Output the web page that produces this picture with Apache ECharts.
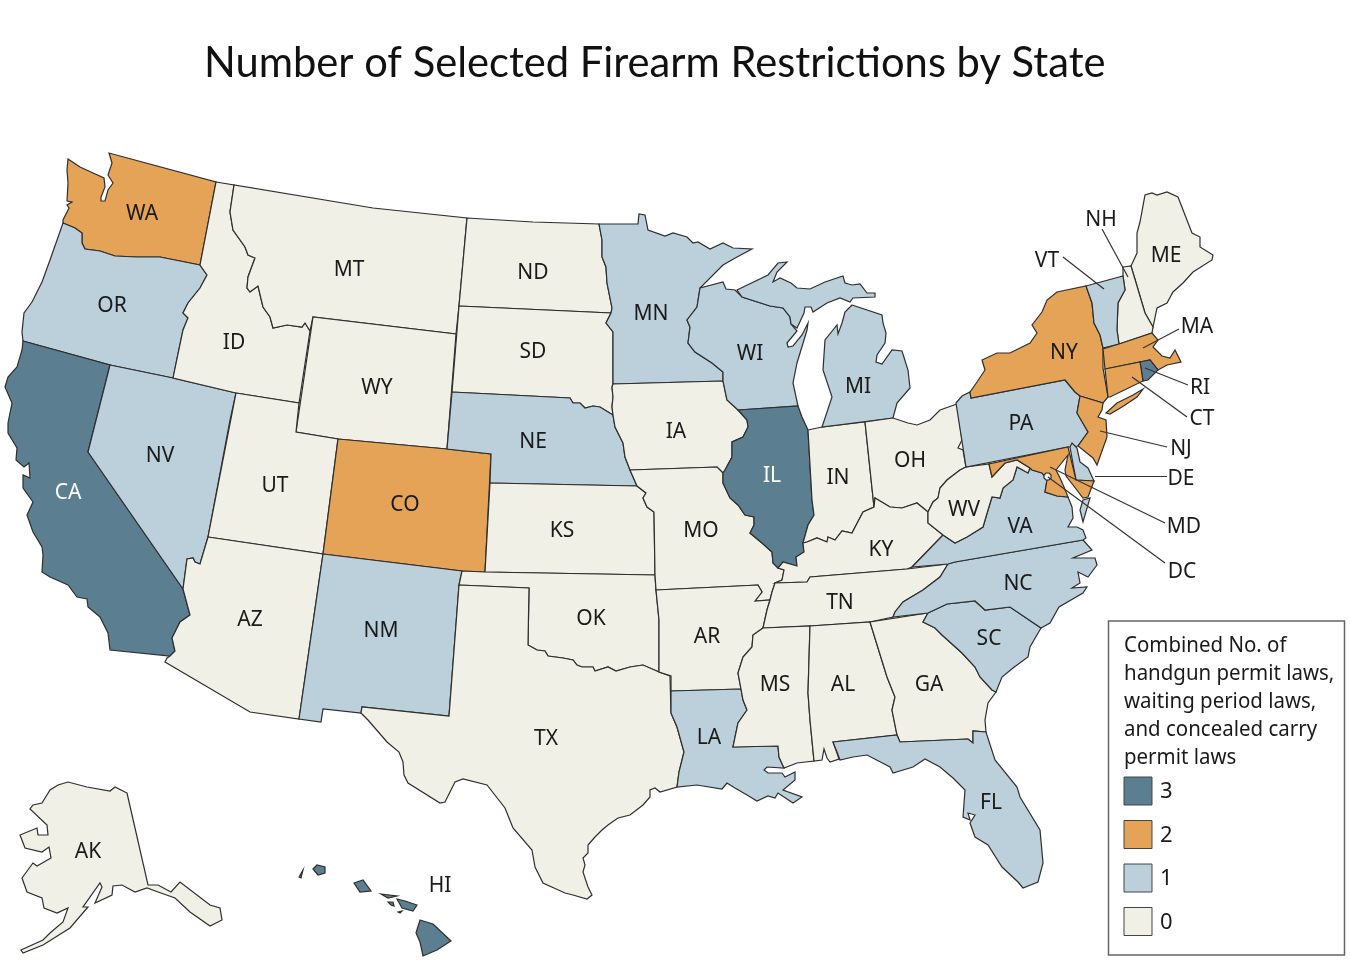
<!DOCTYPE html>
<html lang="en">
<head>
<meta charset="UTF-8">
<title>Number of Selected Firearm Restrictions by State</title>
<script src="https://cdn.jsdelivr.net/npm/echarts@6/dist/echarts.min.js"></script>
<style>
html, body { margin: 0; padding: 0; background: #fff; }
#chart { width: 1350px; height: 962px; }
</style>
</head>
<body>
<div id="chart"></div>
<script>
// values
var states = ['WA','OR','CA','NV','ID','MT','WY','UT','AZ','CO','NM','ND','SD','NE','KS','OK','TX','MN','IA','MO','AR','LA','WI','IL','IN','MI','OH','KY','TN','MS','AL','GA','FL','SC','NC','VA','WV','PA','NY','ME','NH','VT','MA','RI','CT','NJ','DE','MD','DC','AK','HI'];
var counts = [2,1,3,1,0,0,0,0,0,2,1,0,0,1,0,0,0,1,0,0,0,1,1,3,0,1,0,0,0,0,0,0,1,1,1,1,0,1,2,0,0,1,2,3,2,2,1,2,0,0,3];
var legendLevels = [3, 2, 1, 0];
var levelColors = ['#5B7F91', '#E5A358', '#BBD0DB', '#F0F0E6'];
var legendTitle = ['Combined No. of', 'handgun permit laws,', 'waiting period laws,', 'and concealed carry', 'permit laws'];
var titleText = 'Number of Selected Firearm Restrictions by State';

// base map, traced by hand in picture pixels. shared borders first
var waOr = [[63,223],[75,228],[82,233],[82,243],[85,249],[100,251],[115,256],[137,257],[160,257],[200,265]];
var orId = [[200,265],[207,275],[200,288],[188,303],[183,313],[188,318],[183,330],[173,378]];
var idMt = [[234,185],[230,212],[233,230],[245,247],[248,255],[255,258],[248,277],[247,288],[250,292],[258,286],[263,307],[270,317],[273,328],[287,325],[302,327],[305,323],[310,331]];
var caAz = [[183,589],[190,615],[180,622],[172,638],[175,651],[170,656]];
var nvAz = [[208,537],[200,564],[195,562],[193,558],[187,559],[183,589]];
var redRiver = [[659,672],[643,665],[630,667],[616,671],[608,667],[595,671],[593,667],[582,667],[577,665],[573,660],[563,658],[548,656],[545,651],[537,650],[528,645]];
var txLa = [[671,713],[677,727],[684,752],[679,772],[677,787]];
var sdNe = [[452,392],[570,398],[573,403],[580,403],[585,408],[593,406],[600,407],[613,415]];
var neIa = [[613,415],[615,427],[623,443],[625,457],[630,470]];
var ndMn = [[599,224],[602,240],[602,257],[606,267],[607,283],[612,308],[611,313]];
var sdMn = [[611,313],[606,323],[613,332],[613,384]];
var sdIa = [[613,384],[612,387],[613,397],[612,407],[613,415]];
var mnWi = [[700,288],[697,307],[687,320],[690,327],[688,343],[695,352],[712,363],[723,372],[723,381]];
var wiIa = [[723,381],[727,400],[738,410]];
var ilIa = [[738,410],[747,420],[748,427],[743,437],[732,442],[732,457],[725,470],[723,473]];
var ilMo = [[723,473],[723,483],[730,498],[738,505],[745,515],[754,517],[754,525],[750,533],[762,543],[772,552],[773,563],[778,568]];
var ilKy = [[803,543],[804,552],[796,557],[797,566],[783,562],[778,568]];
var ilIn = [[808,430],[812,500],[814,515],[808,525],[803,543]];
var moKy = [[778,568],[784,570],[782,580],[775,583]];
var moTn = [[775,583],[772,592],[770,600]];
var arTn = [[770,600],[767,610],[763,628]];
var arMs = [[763,628],[753,635],[752,647],[743,657],[738,673],[741,689]];
var laMs = [[741,689],[743,700],[747,710],[738,723],[733,747],[778,746],[779,757],[784,768]];
var msAl = [[810,626],[808,693],[810,720],[814,761]];
var alGa = [[870,622],[887,677],[895,697],[892,710],[897,735]];
var gaSc = [[928,613],[923,622],[935,628],[942,635],[962,653],[975,667],[980,677],[992,690],[996,692]];
var scNc = [[928,613],[947,604],[975,601],[985,610],[1010,607],[1041,628]];
var tnNc = [[948,564],[940,577],[923,590],[903,602],[895,612],[893,617]];
var ohKy = [[928,512],[917,503],[902,508],[890,507],[875,498],[874,507]];
var inKy = [[874,507],[863,512],[852,533],[842,531],[835,540],[828,537],[827,542],[817,538],[807,542],[803,543]];
var kyWv = [[928,512],[928,523],[943,535]];
var ohWv = [[966,467],[960,470],[947,480],[940,488],[938,498],[933,502],[928,512]];
var wvVa = [[943,535],[955,543],[967,537],[983,527],[988,510],[992,497],[1000,498],[1003,488],[1013,480],[1017,467],[1028,473],[1030,468]];
var mdWv = [[989,464],[992,477],[1005,463],[1017,460],[1030,468]];
var mdVa = [[1030,468],[1032,470],[1042,473],[1047,480],[1045,492],[1057,496],[1068,497]];
var nyPa = [[971,398],[1065,380],[1075,392],[1080,396]];
var paNj = [[1080,396],[1077,413],[1088,432],[1078,446],[1070,447]];
var nyVt = [[1086,286],[1092,303],[1094,323],[1100,335],[1103,348]];
var vtNh = [[1123,276],[1125,290],[1118,303],[1117,330],[1119,344]];

function rev(a) { return a.slice().reverse(); }

var outlines = {
  WA: [[[68,159],[80,167],[93,173],[104,178],[105,187],[101,197],[101,201],[105,201],[108,190],[113,183],[108,175],[112,163],[109,153],[216,182]].concat(rev(waOr)).concat([[63,220],[66,214],[69,208],[67,205],[72,202],[67,201],[68,183],[67,170]])],
  OR: [waOr.concat(orId).concat([[110,365],[23,341],[22,332],[24,313],[32,302],[42,282],[50,260]])],
  CA: [[[23,341],[110,365],[88,452]].concat(caAz).concat([[110,650],[108,633],[100,617],[88,607],[87,599],[77,597],[68,585],[50,577],[42,572],[43,555],[42,547],[33,532],[27,515],[33,502],[23,488],[23,475],[30,478],[29,463],[24,467],[16,460],[17,448],[8,433],[8,423],[12,403],[5,387],[8,377],[17,367],[22,350]])],
  NV: [[[110,365],[173,378],[236,393],[230,420]].concat(nvAz).concat([[88,452]])],
  ID: [[[216,182]].concat(idMt).concat([[299,403],[236,393],[173,378]]).concat(rev(orId))],
  MT: [idMt.concat([[313,317],[456,334],[459,306],[467,218],[373,208]])],
  WY: [[[313,317],[456,334],[447,449],[338,439],[296,432]]],
  UT: [[[236,393],[299,403],[296,432],[338,439],[323,554],[208,537]]],
  AZ: [[[208,537],[323,554],[299,719],[250,712],[165,662],[167,658]].concat(rev(caAz)).concat(rev(nvAz))],
  CO: [[[338,439],[447,449],[491,454],[485,572],[462,571],[323,554]]],
  NM: [[[323,554],[462,571],[459,585],[449,716],[362,707],[361,713],[323,709],[321,722],[299,719]]],
  ND: [[[467,218],[533,222],[599,224]].concat(ndMn.slice(1)).concat([[459,306]])],
  SD: [[[459,306]].concat(ndMn.slice(-1)).concat(sdMn.slice(1)).concat(sdIa.slice(1)).concat(rev(sdNe))],
  NE: [sdNe.concat(neIa.slice(1)).concat([[637,486],[490,483],[491,454],[447,449]])],
  KS: [[[490,483],[637,486],[646,493],[643,498],[647,507],[654,512],[655,575],[485,572]]],
  OK: [[[462,571],[485,572],[655,575],[656,590],[659,620]].concat(redRiver).concat([[529,588],[459,585]])],
  TX: [[[459,585],[529,588]].concat(rev(redRiver)).concat([[670,676]]).concat(txLa).concat([[660,792],[655,788],[650,790],[650,797],[643,805],[630,815],[618,818],[608,825],[602,830],[595,837],[588,845],[588,853],[583,858],[585,865],[583,872],[588,887],[592,895],[587,899],[573,895],[565,893],[543,883],[535,867],[532,850],[513,828],[505,808],[487,785],[463,779],[455,782],[445,802],[440,803],[408,783],[404,775],[403,762],[399,752],[387,742],[368,720],[361,713],[362,707],[449,716]])],
  MN: [ndMn.concat(sdMn.slice(1)).concat([[723,381]]).concat(rev(mnWi)).concat([[723,265],[737,257],[752,249],[733,248],[723,243],[710,249],[698,242],[693,243],[687,237],[673,233],[665,236],[648,230],[645,215],[639,214],[638,224]])],
  IA: [sdIa.concat(neIa.slice(1)).concat([[717,467]]).concat(rev(ilIa)).concat(rev(wiIa))],
  MO: [[[630,470],[717,467]].concat(ilMo).concat(moKy.slice(1)).concat(moTn.slice(1)).concat([[755,601],[762,592],[758,585],[656,590],[655,575],[654,512],[647,507],[643,498],[646,493],[637,486]])],
  AR: [[[656,590],[758,585],[762,592],[755,601]].concat(arTn).concat(arMs.slice(1)).concat([[671,691],[671,676],[659,672],[659,620]])],
  LA: [[[671,691]].concat(laMs).concat([[767,767],[764,770],[768,773],[782,773],[785,777],[795,772],[795,780],[783,790],[802,797],[793,803],[778,793],[775,798],[768,796],[757,801],[747,795],[735,788],[727,783],[722,789],[697,785]]).concat(rev(txLa))],
  WI: [mnWi.concat(wiIa.slice(1)).concat([[798,406],[793,383],[797,363],[804,340],[807,330],[808,323],[802,335],[793,346],[788,347],[787,343],[797,331],[791,324],[790,317],[783,308],[770,306],[742,297],[735,290],[726,289],[723,282]])],
  IL: [[[738,410],[798,406],[802,417]].concat(ilIn).concat(ilKy.slice(1)).concat(rev(ilMo).slice(1)).concat(rev(ilIa).slice(1))],
  IN: [[[808,430],[822,427],[865,422]].concat([[874,507]]).concat(inKy.slice(1)).concat(rev(ilIn).slice(1))],
  MI: [
    [[737,290],[768,275],[778,263],[787,262],[777,272],[773,282],[780,278],[791,283],[797,288],[810,289],[825,282],[843,276],[845,283],[852,285],[860,284],[867,293],[875,293],[875,297],[853,298],[850,302],[840,298],[827,303],[813,312],[811,307],[805,307],[804,313],[797,328],[791,324],[790,317],[783,308],[770,306],[742,297]],
    [[852,305],[882,315],[883,323],[886,333],[885,343],[877,355],[876,362],[882,364],[892,350],[902,351],[908,370],[910,388],[897,403],[893,418],[822,427],[832,397],[823,370],[825,340],[837,325],[838,334],[842,323],[845,312]]
  ],
  OH: [[[865,422],[893,418],[908,423],[917,425],[930,420],[940,410],[957,404],[962,440],[958,448],[963,450]].concat(ohWv).concat(ohKy.slice(1))],
  KY: [[[775,583],[807,582],[810,577],[907,569],[912,567],[943,535]].concat(rev(kyWv).slice(1)).concat(ohKy.slice(1)).concat(inKy.slice(1)).concat(ilKy.slice(1)).concat(moKy.slice(1))],
  TN: [[[775,583],[807,582],[810,577],[907,569],[948,564]].concat(tnNc.slice(1)).concat([[870,622],[810,626],[763,628]]).concat(rev(arTn).slice(1)).concat(rev(moTn).slice(1))],
  MS: [arMs.concat(laMs.slice(1)).concat([[797,763]]).concat(rev(msAl))],
  AL: [msAl.concat([[822,760],[824,749],[827,758],[830,762],[839,759],[837,753],[833,742]]).concat(rev(alGa))],
  GA: [alGa.concat([[900,742],[968,739],[973,743],[973,731],[986,732],[985,720],[988,703]]).concat(rev(gaSc))],
  FL: [[[833,742],[897,735],[900,742],[968,739],[973,743],[973,731],[986,732],[995,760],[1017,787],[1020,797],[1040,830],[1043,863],[1038,882],[1023,888],[1018,882],[1002,867],[988,845],[975,837],[970,823],[975,815],[968,813],[970,820],[963,817],[965,790],[953,778],[940,767],[925,759],[913,767],[893,773],[890,767],[867,755],[853,757],[840,760],[837,752]]],
  SC: [scNc.concat([[1030,647],[1028,657],[1013,668],[1002,677]]).concat(rev(gaSc).slice(0, -1))],
  NC: [[[893,617]].concat(rev(tnNc).slice(1)).concat([[955,562],[1083,540],[1092,550],[1073,558],[1095,558],[1097,565],[1088,577],[1078,572],[1080,583],[1072,588],[1087,587],[1083,593],[1059,607],[1050,623],[1041,628]]).concat(rev(scNc).slice(1))],
  VA: [
    [[912,567]].concat(wvVa).concat(mdVa.slice(1)).concat([[1072,507],[1073,518],[1068,527],[1077,527],[1083,530],[1086,538],[1083,540],[955,562],[948,564]]),
    [[1083,500],[1090,498],[1083,522],[1080,510]]
  ],
  WV: [ohWv.concat(kyWv.slice(1)).concat(wvVa.slice(1)).concat(rev(mdWv).slice(1))],
  PA: [[[956,403],[962,396],[970,392]].concat(nyPa).concat(paNj.slice(1)).concat([[1068,447],[966,467]])],
  NY: [
    [[970,392],[977,382],[985,370],[982,360],[997,353],[1010,353],[1030,343],[1037,333],[1032,325],[1042,312],[1047,300],[1057,292]].concat(nyVt).concat([[1103,368],[1108,397],[1103,403]]).concat(rev(nyPa)),
    [[1106,413],[1117,403],[1133,395],[1143,389],[1137,397],[1122,407],[1110,414]]
  ],
  ME: [[[1131,266],[1137,253],[1137,233],[1140,222],[1145,195],[1152,193],[1157,195],[1167,192],[1178,197],[1192,233],[1200,237],[1200,247],[1213,255],[1212,260],[1193,272],[1183,283],[1173,292],[1167,303],[1157,308],[1153,327],[1145,313]]],
  NH: [[[1123,267],[1131,266],[1145,313],[1153,327],[1152,333]].concat(rev(vtNh))],
  VT: [[[1086,286],[1123,276]].concat(vtNh.slice(1)).concat(rev(nyVt))],
  MA: [[[1103,349],[1119,344],[1152,333],[1158,340],[1153,347],[1162,356],[1170,358],[1175,350],[1181,362],[1167,365],[1158,370],[1150,360],[1140,362],[1105,369]]],
  CT: [[[1105,369],[1140,362],[1143,381],[1110,397],[1108,397]]],
  RI: [[[1140,362],[1150,360],[1158,370],[1148,380],[1143,381]]],
  NJ: [[[1080,396],[1103,403],[1102,410],[1098,417],[1106,420],[1107,437],[1097,465],[1093,458],[1078,446],[1088,432],[1077,413]]],
  DE: [[[1070,447],[1072,443],[1077,448],[1080,462],[1088,468],[1094,481],[1076,480]]],
  MD: [mdWv.concat(mdVa.slice(1)).concat([[1064,487],[1060,478],[1056,470],[1060,465],[1068,455],[1065,470],[1066,476],[1073,485],[1083,498],[1088,497],[1094,481],[1076,480],[1068,447]])],
  DC: [[[1044,475],[1046,473],[1049,473],[1051,475],[1051,478],[1049,480],[1046,480],[1044,478]]],
  AK: [[[127,793],[115,787],[110,791],[87,787],[68,782],[58,785],[50,790],[42,803],[33,805],[30,809],[47,825],[48,835],[38,835],[37,828],[20,835],[25,848],[42,852],[49,847],[51,858],[37,866],[33,863],[22,878],[27,892],[42,898],[44,908],[57,913],[68,908],[63,922],[50,933],[43,940],[21,950],[23,953],[43,945],[70,928],[88,907],[83,907],[100,883],[102,887],[95,903],[112,895],[113,886],[122,885],[135,892],[147,888],[158,892],[175,898],[190,912],[210,926],[222,920],[220,908],[210,905],[180,882],[171,892],[158,885],[148,885]]],
  HI: [
    [[299,877],[303,870],[304,871],[301,878]],
    [[313,869],[317,865],[325,867],[325,873],[318,875]],
    [[354,883],[363,880],[371,891],[360,892]],
    [[381,894],[397,896],[388,898]],
    [[388,902],[393,902],[394,906],[391,905]],
    [[397,899],[405,901],[417,905],[413,911],[402,908]],
    [[398,912],[402,911],[400,913]],
    [[420,920],[433,924],[451,941],[437,950],[423,956],[420,942],[416,933]]
  ]
};

// where each state's text sits, small ones sit outside with a leader
var labelAt = {
  WA:[142,212],OR:[112,304],CA:[68,491],NV:[160,454],ID:[234,341],MT:[349,268],WY:[377,386],UT:[275,484],AZ:[250,618],CO:[405,503],NM:[381,629],
  ND:[533,271],SD:[533,350],NE:[533,440],KS:[562,529],OK:[591,617],TX:[546,737],MN:[651,312],IA:[676,430],MO:[701,529],AR:[707,635],LA:[709,736],
  WI:[750,352],IL:[772,474],IN:[838,476],MI:[858,385],OH:[910,459],KY:[881,548],TN:[840,601],MS:[775,683],AL:[843,683],GA:[929,683],FL:[991,801],
  SC:[989,637],NC:[1018,582],VA:[1020,525],WV:[964,508],PA:[1021,422],NY:[1064,351],ME:[1166,254],NH:[1101,218],VT:[1047,259],MA:[1197,325],
  RI:[1200,386],CT:[1202,417],NJ:[1181,447],DE:[1181,477],MD:[1184,525],DC:[1182,570],AK:[88,850],HI:[440,884]
};

var leaders = [
  [[1102,229],[1128,277]], [[1063,257],[1104,289]], [[1179,329],[1143,348]], [[1188,385],[1145,368]], [[1187,417],[1132,377]],
  [[1167,447],[1100,431]], [[1167,476],[1095,476]], [[1165,523],[1050,467]], [[1165,563],[1048,477]]
];

var geoJson = {
  type: 'FeatureCollection',
  features: states.map(function (s) {
    return {
      type: 'Feature',
      properties: { name: s, cp: labelAt[s] },
      geometry: { type: 'MultiPolygon', coordinates: outlines[s].map(function (r) { return [r.concat([r[0]])]; }) }
    };
  })
};
echarts.registerMap('usa', geoJson);

var plain = { project: function (p) { return p; }, unproject: function (p) { return p; } };
var FONT = '"Noto Sans", sans-serif';
var INK = '#1a1a1a';

var graphics = [{
  type: 'rect', shape: { x: 1108.5, y: 621, width: 236, height: 334 },
  style: { fill: '#fff', stroke: '#666', lineWidth: 1.5 }
}];
legendTitle.forEach(function (line, i) {
  graphics.push({
    type: 'text', x: 1124, y: 646 + i * 28, scaleX: 0.93,
    style: { text: line, font: '22px ' + FONT, fill: INK, verticalAlign: 'middle' }
  });
});
legendLevels.forEach(function (lv, i) {
  var y = 777 + i * 43.5;
  graphics.push({
    type: 'rect', shape: { x: 1124, y: y, width: 28, height: 28 },
    style: { fill: levelColors[i], stroke: '#444', lineWidth: 1 }
  });
  graphics.push({
    type: 'text', x: 1160, y: y + 15,
    style: { text: String(lv), font: '22px ' + FONT, fill: INK, verticalAlign: 'middle' }
  });
});

var chart = echarts.init(document.getElementById('chart'));
chart.setOption({
  animation: false,
  backgroundColor: '#fff',
  title: {
    text: titleText, left: 199, top: 38,
    textStyle: { fontFamily: 'Lato', fontSize: 41.7, fontWeight: 'normal', color: '#111' }
  },
  visualMap: {
    show: false, type: 'piecewise', seriesIndex: 0,
    pieces: legendLevels.map(function (lv, i) { return { value: lv, color: levelColors[i] }; })
  },
  // invisible twin of the map, only there to give the leader lines a coordinate system
  geo: {
    map: 'usa', projection: plain, silent: true, z: 0,
    left: 0, top: 0, width: 1350, height: 962, boundingCoords: [[0, 0], [1350, 962]],
    itemStyle: { areaColor: 'transparent', borderWidth: 0, opacity: 0 },
    label: { show: false }
  },
  series: [{
    type: 'map', map: 'usa', projection: plain, silent: true, z: 2,
    left: 0, top: 0, width: 1350, height: 962, boundingCoords: [[0, 0], [1350, 962]],
    itemStyle: { borderColor: '#2e2e2e', borderWidth: 1.2 },
    label: { show: true, fontFamily: FONT, fontSize: 21, color: INK, offset: [0, 2] },
    data: states.map(function (s, i) {
      var white = counts[i] === 3 && s !== 'RI' && s !== 'HI';
      return { name: s, value: counts[i], label: { color: white ? '#fff' : INK } };
    })
  }, {
    type: 'lines', coordinateSystem: 'geo', silent: true, z: 3, symbol: 'none',
    lineStyle: { color: '#333', width: 1.2, opacity: 1, curveness: 0 },
    data: leaders.map(function (l) { return { coords: l }; })
  }],
  graphic: graphics
});
</script>
</body>
</html>
